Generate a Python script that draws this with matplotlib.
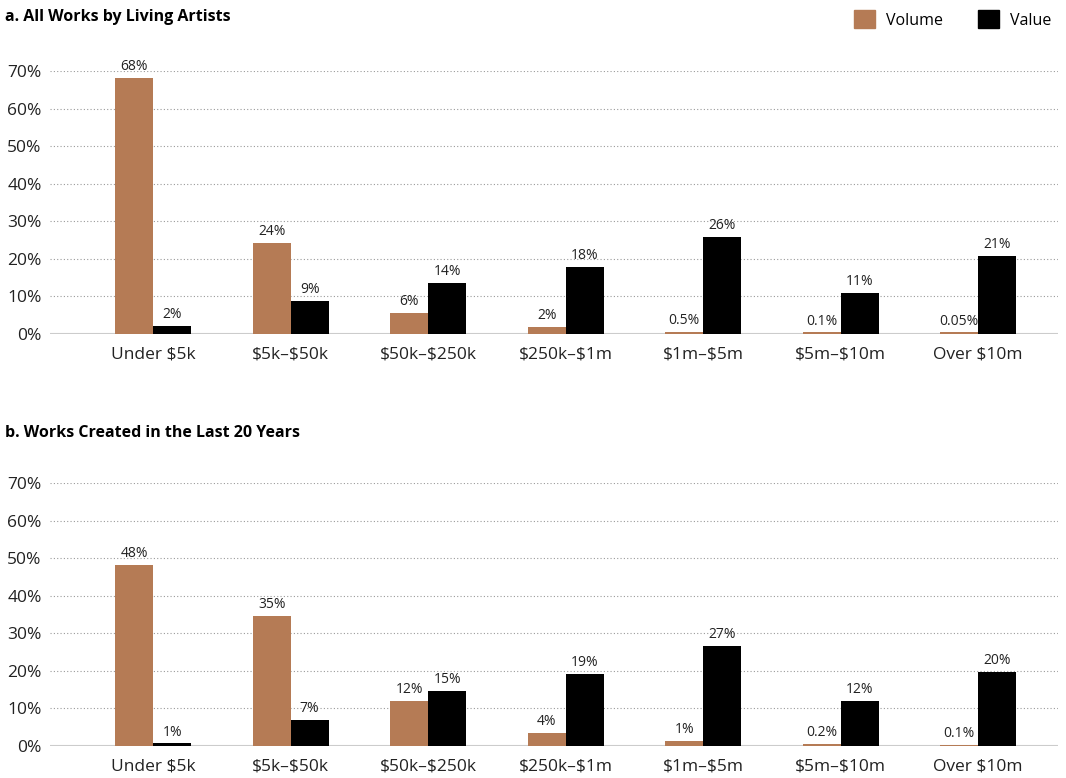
import numpy as np
import matplotlib.pyplot as plt
from matplotlib.patches import Patch

categories = ["Under $5k", "$5k\u2013$50k", "$50k\u2013$250k", "$250k\u2013$1m",
              "$1m\u2013$5m", "$5m\u2013$10m", "Over $10m"]

# panel a
vol_a = [68.1, 24.2, 5.6, 1.9, 0.5, 0.4, 0.4]
val_a = [2.1, 8.8, 13.6, 17.8, 25.8, 10.9, 20.8]
vol_a_lbl = ["68%", "24%", "6%", "2%", "0.5%", "0.1%", "0.05%"]
val_a_lbl = ["2%", "9%", "14%", "18%", "26%", "11%", "21%"]

# panel b
vol_b = [48.2, 34.6, 12.0, 3.5, 1.3, 0.5, 0.4]
val_b = [0.7, 7.0, 14.7, 19.3, 26.7, 12.0, 19.8]
vol_b_lbl = ["48%", "35%", "12%", "4%", "1%", "0.2%", "0.1%"]
val_b_lbl = ["1%", "7%", "15%", "19%", "27%", "12%", "20%"]

yticks = [0, 10, 20, 30, 40, 50, 60, 70]

BROWN = "#b57b55"
plt.rcParams['font.family'] = ["Open Sans", 'DejaVu Sans']
plt.rcParams['text.parse_math'] = False

fig = plt.figure(figsize=(10.66, 7.78), dpi=100)

W = 0.276
x = np.arange(len(categories))


def draw_panel(ax, vol, val, vol_lbl, val_lbl):
    ax.bar(x - W / 2, vol, W, color=BROWN, zorder=3)
    ax.bar(x + W / 2, val, W, color="black", zorder=3)
    for xi, h, t in zip(x - W / 2, vol, vol_lbl):
        ax.text(xi, h + 1.0, t, ha="center", va="bottom", fontsize=10, color="#222222", clip_on=False)
    for xi, h, t in zip(x + W / 2, val, val_lbl):
        ax.text(xi, h + 1.0, t, ha="center", va="bottom", fontsize=10, color="#222222", clip_on=False)
    ax.set_xlim(-0.75, 6.58)
    ax.set_ylim(0, 70)
    ax.set_yticks(yticks)
    ax.set_yticklabels([f"{t}%" for t in yticks], fontsize=12.5, color="#222222")
    ax.set_xticks(x)
    ax.set_xticklabels(categories, fontsize=12.5, color="#222222")
    ax.tick_params(axis="both", length=0)
    ax.tick_params(axis="x", pad=9)
    ax.tick_params(axis="y", pad=6)
    for v in yticks[1:]:
        ax.axhline(v, color="#9a9a9a", lw=0.8, ls=(0, (1, 2)), zorder=1)
    ax.axhline(0, color="#cccccc", lw=1.5, zorder=2)
    for s in ax.spines.values():
        s.set_visible(False)


ax1 = fig.add_axes([0.0469, 0.5707, 0.9456, 0.338])
draw_panel(ax1, vol_a, val_a, vol_a_lbl, val_a_lbl)
ax2 = fig.add_axes([0.0469, 0.0411, 0.9456, 0.338])
draw_panel(ax2, vol_b, val_b, vol_b_lbl, val_b_lbl)

fig.text(0.005, 0.978, "a. All Works by Living Artists", fontsize=11.5, fontweight="bold", va="center")
fig.text(0.005, 0.443, "b. Works Created in the Last 20 Years", fontsize=11.5, fontweight="bold", va="center")

handles = [Patch(color=BROWN, label="Volume"), Patch(color="black", label="Value")]
fig.legend(handles=handles, loc="upper right", bbox_to_anchor=(1.0, 1.005), ncol=2, frameon=False,
           fontsize=11.5, handlelength=1.3, handleheight=1.3, columnspacing=2.2, handletextpad=0.7)

fig.savefig("out.png", dpi=100)
